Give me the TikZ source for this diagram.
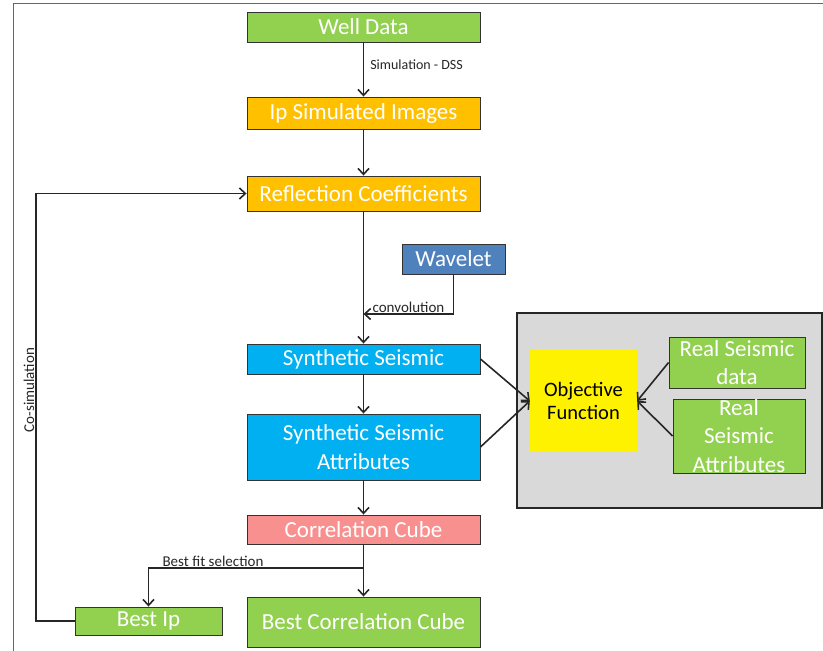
\documentclass[tikz,border=0pt]{standalone}
\usepackage{fontspec}
\usetikzlibrary{arrows.meta}
\setmainfont{Carlito}
\definecolor{boxgreen}{HTML}{92D050}
\definecolor{boxorange}{HTML}{FFC000}
\definecolor{boxcyan}{HTML}{00B0F0}
\definecolor{boxblue}{HTML}{4F81BD}
\definecolor{boxpink}{HTML}{F99090}
\definecolor{panelgray}{HTML}{D9D9D9}
\begin{document}
\begin{tikzpicture}[x=1pt,y=-1pt, >={Straight Barb[length=6pt,width=11pt]},
  box/.style={draw=black!80, line width=0.9pt, text=white, align=center, inner sep=0pt,
    font=\fontsize{23}{28.5}\selectfont, minimum width=233pt},
  conn/.style={->, line width=1.6pt, draw=black!85},
  lab/.style={font=\fontsize{15}{17}\selectfont, text=black!85, inner sep=1pt}]
\useasboundingbox (0,0) rectangle (823,651);
% frame:
\draw[black!60, line width=0.8pt] (13,651) -- (13,3) -- (823,3);
% main column:
\node[box, fill=boxgreen, minimum height=30pt] (well) at (363.5,27) {Well Data};
\node[box, fill=boxorange, minimum height=32pt] (ipsim) at (363.5,113) {Ip Simulated Images};
\node[box, fill=boxorange, minimum height=35pt] (refl) at (363.5,193.5) {Reflection Coefficients};
\node[box, fill=boxblue, minimum width=103pt, minimum height=30pt] (wavelet) at (453.5,259) {Wavelet};
\node[box, fill=boxcyan, minimum height=30pt] (synth) at (363.5,359) {Synthetic Seismic};
\node[box, fill=boxcyan, minimum height=66pt] (attr) at (363.5,447) {Synthetic Seismic\\Attributes};
\node[box, fill=boxpink, minimum height=29pt] (corr) at (363.5,529.5) {Correlation Cube};
\node[box, fill=boxgreen, minimum height=50pt] (bestcube) at (363.5,622) {Best Correlation Cube};
\node[box, fill=boxgreen, minimum width=147pt, minimum height=28pt] (bestip) at (148.5,621) {Best Ip};
% objective panel:
\node[draw=black!85, line width=1.8pt, fill=panelgray, minimum width=305pt, minimum height=195pt] (panel) at (669.5,410.5) {};
\node[fill=yellow, align=center, font=\fontsize{20.5}{23.5}\selectfont, minimum width=107pt, minimum height=102pt] (obj) at (583.5,401) {Objective\\Function};
\node[box, fill=boxgreen, minimum width=136pt, minimum height=51pt] (realdata) at (737,362.5) {Real Seismic\\data};
\node[box, fill=boxgreen, minimum width=132pt, minimum height=74pt] (realattr) at (739,436) {Real\\Seismic\\Attributes};
% connectors:
\coordinate (conv) at (363.5,314);
\coordinate (split) at (363.5,568);
\coordinate (loop) at (36,621);
\draw[conn] (well) -- (ipsim) node[pos=0.42, right, lab, font=\fontsize{14}{16}\selectfont, xshift=5pt] {Simulation - DSS};
\draw[conn] (ipsim) -- (refl);
\draw[conn] (refl) -- (synth);
\draw[conn] (wavelet.south) |- (conv) node[pos=0.75, above, lab] {convolution};
\draw[conn] (synth) -- (attr);
\draw[conn] (attr) -- (corr);
\draw[conn] (corr) -- (bestcube);
\draw[conn] (split) -| (bestip.north) node[pos=0.35, above, lab] {Best fit selection};
\draw[conn] (bestip.west) -- (loop) |- (refl.west) node[pos=0.27, rotate=90, above, lab] {Co-simulation};
\draw[conn] (synth.east) -- (obj.west);
\draw[conn] (attr.east) -- (obj.west);
\draw[conn] (realdata.west) -- (obj.east);
\draw[conn] (realattr.west) -- (obj.east);
\end{tikzpicture}
\end{document}
